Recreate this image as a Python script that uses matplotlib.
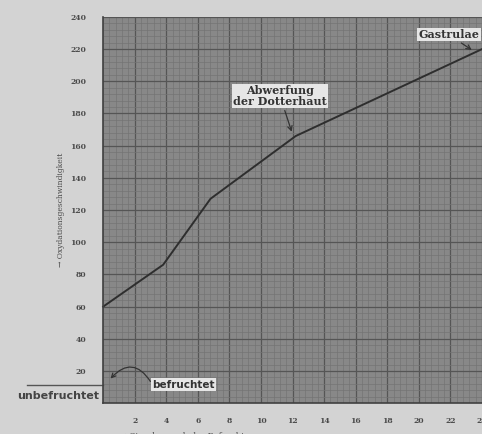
import matplotlib.pyplot as plt
import numpy as np

# Stunden nach der Befruchtung / Oxydationsgeschwindigkeit
hours = [0, 3.8, 6.8, 12.2, 24]
rate = [60, 86, 127, 166, 220]
unfert_rate = 11
x_ticks = [2, 4, 6, 8, 10, 12, 14, 16, 18, 20, 22, 24]
y_ticks = [20, 40, 60, 80, 100, 120, 140, 160, 180, 200, 220, 240]


def main():
    fig = plt.figure(figsize=(4.82, 4.34), dpi=100, facecolor='#d3d3d3')
    ax = fig.add_axes([0.214, 0.071, 0.786, 0.89])
    ax.set_facecolor('#888888')

    # Millimeterpapier
    ax.set_xlim(0, 24)
    ax.set_ylim(0, 240)
    ax.set_xticks(x_ticks)
    ax.set_yticks(y_ticks)
    ax.set_xticks(np.arange(0, 24.01, 0.4), minor=True)
    ax.set_yticks(np.arange(0, 240.1, 4), minor=True)
    ax.grid(which='minor', color='#747474', linewidth=0.5)
    ax.grid(which='major', color='#555555', linewidth=0.9)
    ax.set_axisbelow(True)
    ax.tick_params(which='both', length=0)
    ax.tick_params(axis='x', pad=10, labelsize=5.5, labelcolor='#4a4a4a')
    ax.tick_params(axis='y', pad=12, labelsize=5.5, labelcolor='#4a4a4a')
    for lab in ax.get_xticklabels() + ax.get_yticklabels():
        lab.set_fontfamily('DejaVu Serif')
        lab.set_fontweight('bold')
    for s in ['top', 'right']:
        ax.spines[s].set_visible(False)
    for s in ['left', 'bottom']:
        ax.spines[s].set_color('#404040')
        ax.spines[s].set_linewidth(1.2)

    ax.plot(hours, rate, color='#2e2e2e', linewidth=1.4, clip_on=False)

    box = dict(boxstyle='square,pad=0.12', facecolor='#e6e6e6', edgecolor='none')
    ax.annotate('Gastrulae', xy=(23.5, 218.5), xytext=(21.9, 229),
                ha='center', va='center', fontsize=8, family='DejaVu Serif',
                fontweight='bold', color='#333333', bbox=box,
                arrowprops=dict(arrowstyle='->', color='#333333', lw=0.9))
    ax.annotate('Abwerfung\nder Dotterhaut', xy=(12.0, 167), xytext=(11.2, 191),
                ha='center', va='center', fontsize=8, family='DejaVu Serif',
                fontweight='bold', color='#333333', bbox=box, linespacing=0.95,
                arrowprops=dict(arrowstyle='->', color='#333333', lw=0.9))
    ax.annotate('befruchtet', xy=(0.35, 14), xytext=(5.1, 11.5),
                ha='center', va='center', fontsize=7.5, family='DejaVu Sans',
                fontweight='bold', color='#333333', bbox=box,
                arrowprops=dict(arrowstyle='->', color='#333333', lw=0.9,
                                relpos=(0, 0.5), shrinkA=1,
                                connectionstyle='arc3,rad=0.7'))

    # unbefruchtet: Linie links neben der Achse
    ax.plot([-4.8, 0], [unfert_rate, unfert_rate], color='#555555',
            linewidth=1.0, clip_on=False)
    ax.text(-2.85, unfert_rate - 3.5, 'unbefruchtet', ha='center', va='top',
            fontsize=8, fontweight='bold', color='#444444')

    ax.set_ylabel('→ Oxydationsgeschwindigkeit', fontsize=5.5,
                  family='DejaVu Serif', color='#4a4a4a')
    ax.yaxis.set_label_coords(-0.1, 0.5)
    ax.set_xlabel('→ Stunden nach der Befruchtung', fontsize=6,
                  family='DejaVu Serif', color='#4a4a4a')
    ax.xaxis.set_label_coords(0.23, -0.075)

    plt.savefig('out.png', dpi=100, facecolor=fig.get_facecolor())


if __name__ == "__main__":
    main()
